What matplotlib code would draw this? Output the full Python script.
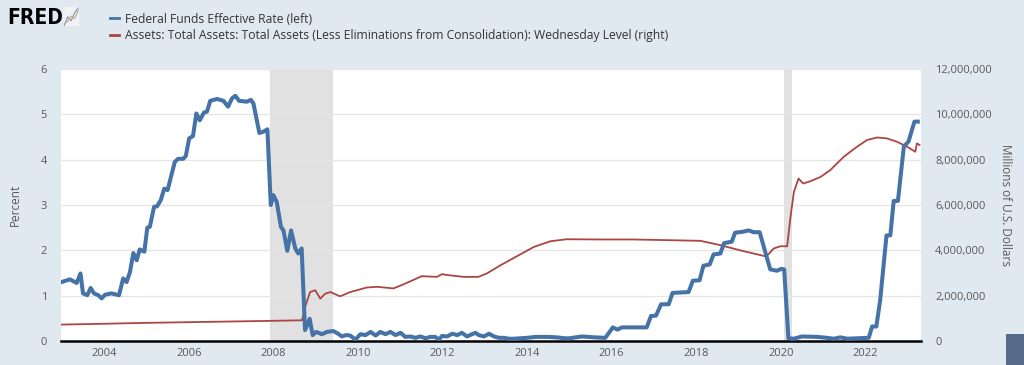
import numpy as np
import matplotlib
matplotlib.use("Agg")
import matplotlib.pyplot as plt
from matplotlib.lines import Line2D
from matplotlib.patches import Rectangle
from matplotlib.ticker import FuncFormatter

# Federal Funds Effective Rate (percent)
ff_year = [2002.99, 2003.19, 2003.31, 2003.35, 2003.44, 2003.50, 2003.60, 2003.68, 2003.76, 2003.86,
           2003.94, 2004.02, 2004.17, 2004.35, 2004.45, 2004.53, 2004.61, 2004.69, 2004.77, 2004.84,
           2004.95, 2005.02, 2005.08, 2005.18, 2005.25, 2005.34, 2005.42, 2005.50, 2005.67, 2005.75,
           2005.87, 2005.93, 2006.01, 2006.10, 2006.18, 2006.26, 2006.36, 2006.43, 2006.51, 2006.67,
           2006.82, 2006.93, 2007.02, 2007.10, 2007.19, 2007.37, 2007.47, 2007.53, 2007.67, 2007.77,
           2007.86, 2007.94, 2008.00, 2008.08, 2008.18, 2008.24, 2008.33, 2008.42, 2008.52, 2008.59,
           2008.67, 2008.75, 2008.86, 2008.93, 2009.01, 2009.15, 2009.27, 2009.42, 2009.55, 2009.62,
           2009.72, 2009.82, 2009.94, 2010.06, 2010.18, 2010.30, 2010.42, 2010.53, 2010.65, 2010.77,
           2010.89, 2011.01, 2011.12, 2011.24, 2011.36, 2011.48, 2011.60, 2011.71, 2011.83, 2011.91,
           2011.99, 2012.11, 2012.23, 2012.35, 2012.46, 2012.58, 2012.70, 2012.78, 2012.86, 2012.98,
           2013.10, 2013.22, 2013.33, 2013.45, 2013.57, 2013.69, 2014.00, 2014.20, 2014.50, 2014.70,
           2014.90, 2015.00, 2015.30, 2015.60, 2015.85, 2016.03, 2016.14, 2016.24, 2016.83, 2016.93,
           2017.05, 2017.17, 2017.35, 2017.44, 2017.82, 2017.92, 2018.08, 2018.17, 2018.32, 2018.41,
           2018.57, 2018.66, 2018.84, 2018.92, 2019.10, 2019.24, 2019.36, 2019.50, 2019.75, 2019.91,
           2020.01, 2020.08, 2020.18, 2020.31, 2020.50, 2020.86, 2021.09, 2021.25, 2021.41, 2021.57,
           2022.08, 2022.16, 2022.26, 2022.35, 2022.50, 2022.59, 2022.67, 2022.77, 2022.91, 2023.02,
           2023.16, 2023.24]
ff_rate = [1.30, 1.36, 1.30, 1.28, 1.49, 1.05, 1.01, 1.17, 1.05, 1.01,
           0.94, 1.02, 1.05, 1.01, 1.38, 1.30, 1.52, 1.94, 1.78, 2.02,
           1.97, 2.50, 2.52, 2.96, 2.97, 3.11, 3.36, 3.33, 3.95, 4.02,
           4.02, 4.08, 4.47, 4.52, 5.02, 4.87, 5.04, 5.06, 5.30, 5.34,
           5.30, 5.17, 5.35, 5.41, 5.30, 5.28, 5.32, 5.24, 4.59, 4.62,
           4.67, 3.00, 3.22, 3.07, 2.52, 2.44, 1.99, 2.44, 2.04, 1.93,
           2.04, 0.24, 0.49, 0.13, 0.20, 0.15, 0.20, 0.22, 0.15, 0.10,
           0.13, 0.12, 0.03, 0.15, 0.13, 0.20, 0.12, 0.20, 0.15, 0.20,
           0.13, 0.18, 0.09, 0.10, 0.07, 0.10, 0.06, 0.09, 0.09, 0.03,
           0.11, 0.10, 0.16, 0.13, 0.18, 0.10, 0.15, 0.18, 0.13, 0.10,
           0.16, 0.10, 0.07, 0.07, 0.05, 0.05, 0.07, 0.09, 0.09, 0.08,
           0.06, 0.06, 0.10, 0.08, 0.07, 0.30, 0.25, 0.30, 0.30, 0.55,
           0.56, 0.81, 0.81, 1.06, 1.08, 1.33, 1.34, 1.66, 1.69, 1.91,
           1.93, 2.16, 2.19, 2.39, 2.41, 2.44, 2.40, 2.40, 1.58, 1.55,
           1.59, 1.58, 0.06, 0.05, 0.10, 0.09, 0.07, 0.05, 0.08, 0.05,
           0.07, 0.32, 0.32, 0.90, 2.33, 2.33, 3.09, 3.09, 4.29, 4.40,
           4.84, 4.84]

# Fed total assets, millions of dollars
assets_year = [2002.98, 2004.0, 2005.0, 2006.0, 2007.0, 2008.0, 2008.68, 2008.75, 2008.87, 2008.99,
               2009.11, 2009.23, 2009.35, 2009.58, 2009.82, 2010.21, 2010.45, 2010.84, 2011.08, 2011.51,
               2011.87, 2011.99, 2012.11, 2012.50, 2012.85, 2013.05, 2013.37, 2013.76, 2014.16, 2014.55,
               2014.94, 2015.73, 2016.52, 2017.31, 2018.10, 2018.57, 2019.04, 2019.63, 2019.71, 2019.83,
               2019.99, 2020.15, 2020.23, 2020.31, 2020.42, 2020.53, 2020.70, 2020.94, 2021.17, 2021.49,
               2021.80, 2022.04, 2022.28, 2022.51, 2022.75, 2022.99, 2023.18, 2023.22, 2023.28]
assets_mil = [724e3, 760e3, 800e3, 830e3, 860e3, 890e3, 914e3, 1.50e6, 2.16e6, 2.24e6,
              1.87e6, 2.09e6, 2.16e6, 1.97e6, 2.16e6, 2.36e6, 2.39e6, 2.32e6, 2.50e6, 2.86e6,
              2.83e6, 2.95e6, 2.91e6, 2.83e6, 2.83e6, 2.98e6, 3.34e6, 3.74e6, 4.15e6, 4.40e6,
              4.49e6, 4.48e6, 4.48e6, 4.45e6, 4.42e6, 4.23e6, 4.00e6, 3.74e6, 3.83e6, 4.08e6,
              4.18e6, 4.18e6, 5.48e6, 6.58e6, 7.17e6, 6.95e6, 7.05e6, 7.24e6, 7.54e6, 8.13e6,
              8.57e6, 8.87e6, 8.98e6, 8.94e6, 8.79e6, 8.57e6, 8.35e6, 8.72e6, 8.65e6]

recessions = [(2007.92, 2009.42), (2020.08, 2020.26)]
year_ticks = [2004, 2006, 2008, 2010, 2012, 2014, 2016, 2018, 2020, 2022]

BLUE = "#4572a7"
RED = "#aa4643"
BG = "#e1e9f0"
TXT = "#595959"

plt.rcParams['font.family'] = ['Open Sans', 'DejaVu Sans']

fig = plt.figure(figsize=(10.24, 3.65), dpi=100, facecolor=BG)
ax = fig.add_axes([0.0596, 0.0658, 0.84, 0.745])
ax2 = ax.twinx()

ax.set_zorder(ax2.get_zorder() + 1)
ax.patch.set_visible(False)
ax2.patch.set_visible(True)
ax2.patch.set_facecolor("white")

for a, b in recessions:
    ax2.axvspan(a, b, color="#e1e1e1", lw=0, zorder=0)

ax2.plot(assets_year, assets_mil, color=RED, lw=1.3, zorder=2)
ax.plot(ff_year, ff_rate, color=BLUE, lw=2.9, solid_joinstyle="round", zorder=3)

ax.set_xlim(2002.98, 2023.32)
ax.set_ylim(0, 6)
ax2.set_ylim(0, 12e6)
ax.set_yticks(range(0, 7))
ax2.set_yticks(np.arange(0, 12e6 + 1, 2e6))
ax2.yaxis.set_major_formatter(FuncFormatter(lambda v, p: "{:,.0f}".format(v)))
ax.set_xticks(year_ticks)

for v in range(1, 7):
    ax2.axhline(v * 2e6, color="#e6e6e6", lw=1, zorder=1)

for a in (ax, ax2):
    for s in a.spines.values():
        s.set_visible(False)
    a.tick_params(colors=TXT, labelsize=8, length=0)
ax.spines["bottom"].set_visible(True)
ax.spines["bottom"].set_color("black")
ax.spines["bottom"].set_linewidth(1.8)
ax.tick_params(axis="y", pad=10)
ax2.tick_params(axis="y", pad=10)
ax.tick_params(axis="x", pad=5)

ax.set_ylabel("Percent", color=TXT, fontsize=8.5)
ax.yaxis.set_label_coords(-0.045, 0.5)
ax2.set_ylabel("Millions of U.S. Dollars", color=TXT, fontsize=8.5, rotation=270,
               va="center")
ax2.yaxis.set_label_coords(1.098, 0.5)

# header: logo + legend
fig.text(0.007, 0.951, "FRED", fontsize=15, fontweight="heavy", color="black",
         family="DejaVu Sans", fontstretch="condensed", va="center")
icon = fig.add_axes([0.062, 0.928, 0.015, 0.052])
icon.set_facecolor("#f0f3f6")
icon.plot([0, 1, 2, 3, 4], [0, 1.5, 0.8, 2.2, 3], color="#7a96b8", lw=0.8)
icon.plot([0, 1, 2, 3, 4], [0.3, 0.7, 1.6, 1.2, 2.6], color="#c9a27a", lw=0.8)
icon.set_xticks([])
icon.set_yticks([])
for s in icon.spines.values():
    s.set_visible(False)

handles = [Line2D([], [], color=BLUE, lw=2),
           Line2D([], [], color=RED, lw=2)]
labels = ["Federal Funds Effective Rate (left)",
          "Assets: Total Assets: Total Assets (Less Eliminations from Consolidation): Wednesday Level (right)"]
leg = fig.legend(handles, labels, loc="upper left", bbox_to_anchor=(0.1, 0.985), frameon=False,
                 fontsize=8.7, handlelength=0.8, handletextpad=0.5, labelspacing=0.25,
                 borderaxespad=0.2)
for t in leg.get_texts():
    t.set_color("#333333")

fig.patches.append(Rectangle((0.982, 0.0), 0.018, 0.085, transform=fig.transFigure,
                             facecolor="#566b8c", edgecolor="none"))

fig.savefig("out.png", dpi=100, facecolor=BG)
